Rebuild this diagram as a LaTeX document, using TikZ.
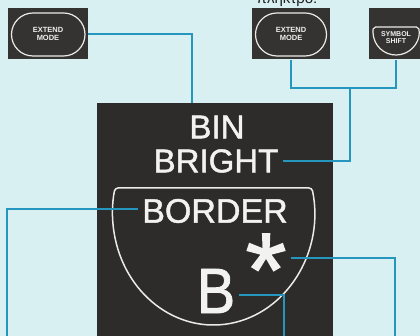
\documentclass[tikz,border=0pt]{standalone}
\usepackage{fontspec}
\setmainfont{Liberation Sans}
\newfontfamily\heavyfont{Liberation Sans}[FakeBold=1.3]
\begin{document}
\begin{tikzpicture}[x=1pt,y=-1pt,
  bgc/.style={fill={rgb,255:red,217;green,240;blue,243}},
  keybox/.style={draw=none,fill={rgb,255:red,52;green,51;blue,49},minimum width=80pt,minimum height=51pt,inner sep=0pt},
  keytext/.style={text={rgb,255:red,240;green,240;blue,240},font=\fontsize{7.5}{7.5}\selectfont\bfseries,align=center,inner sep=0pt},
  outl/.style={draw={rgb,255:red,235;green,235;blue,230},line width=1.2pt},
  bigbox/.style={fill={rgb,255:red,45;green,44;blue,42},inner sep=0pt,anchor=north west},
  bigtext/.style={text={rgb,255:red,242;green,242;blue,240},font=\heavyfont\fontsize{33}{33}\selectfont,inner sep=4pt},
  conn/.style={draw={rgb,255:red,37;green,150;blue,190},line width=2pt},
]
\useasboundingbox (0,0) rectangle (420,336);
\clip (0,0) rectangle (420,336);
\fill[bgc] (0,0) rectangle (420,336);

% top caption (clipped)
\node[anchor=base,font=\fontsize{15}{15}\selectfont,text={rgb,255:red,30;green,30;blue,30},inner sep=0pt] (cap) at (287,4) {πλήκτρο:};

% keys
\node[keybox] (k1) at (48,34) {};
\draw[outl,rounded corners=21.5pt] (11.5,13) rectangle (85,56);
\node[keytext] (k1t) at (k1) {EXTEND\\MODE};

\node[keybox,minimum width=78pt] (k2) at (291,34) {};
\draw[outl,rounded corners=21.5pt] (255.5,13) rectangle (326.5,56);
\node[keytext] (k2t) at (k2) {EXTEND\\MODE};

\node[keybox,minimum width=54pt] (k3) at (396,34) {};
\draw[outl,rounded corners=2pt] (396,32) ++(-12.6:23 and 23) arc[start angle=-12.6,end angle=192.6,x radius=23,y radius=23] -- cycle;
\node[keytext,font=\fontsize{7}{7}\selectfont\bfseries] (k3t) at (396,38) {SYMBOL\\SHIFT};

% big key
\node[bigbox,minimum width=236pt,minimum height=240pt] (box) at (97,103) {};
\draw[outl,line width=1.5pt,rounded corners=3pt] (213.5,213) ++(-12.9:101 and 112) arc[start angle=-12.9,end angle=192.9,x radius=101,y radius=112] -- cycle;

\node[bigtext] (bin) at (217,127) {BIN};
\node[bigtext] (bright) at (216,161) {BRIGHT};
\node[bigtext,font=\heavyfont\fontsize{34}{34}\selectfont] (border) at (215,211) {BORDER};
\node[bigtext,font=\heavyfont\fontsize{64}{64}\selectfont,xscale=0.9] (bb) at (216,291) {B};
\node[bigtext,font=\heavyfont\fontsize{105}{105}\selectfont] (ast) at (266,270) {*};

% connector end points
\coordinate (c1) at (192,103);
\coordinate (j) at (350,88);
\coordinate (e1) at (7,340);
\coordinate (e2) at (284,340);
\coordinate (e3) at (395,340);

% connectors
\draw[conn] (k1.east) -| (c1);
\draw[conn] (k2.south) |- (k3.south |- j) -- (k3.south);
\draw[conn] (bright.east) -| (j);
\draw[conn] ([yshift=2pt]border.west) -| (e1);
\draw[conn] ([yshift=-4pt]bb.east) -| (e2);
\draw[conn] ([yshift=12pt]ast.east) -| (e3);
\end{tikzpicture}
\end{document}
